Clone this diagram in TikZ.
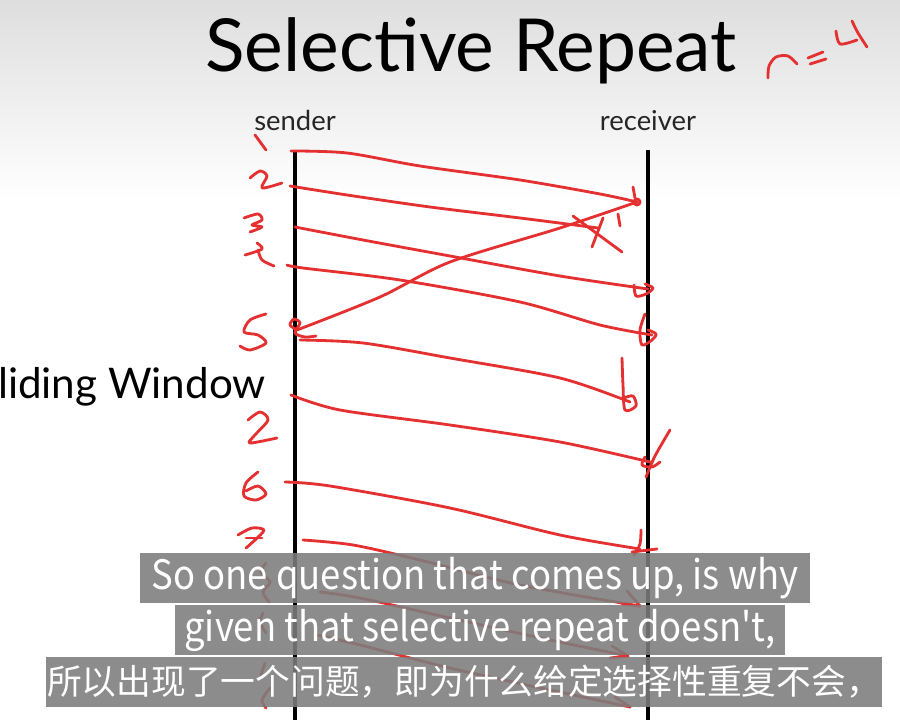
\documentclass[tikz,border=0pt]{standalone}
\usepackage{fontspec}
\newfontfamily\titlefont{Lato}
\newfontfamily\subfont{Noto Sans CJK SC}
\newfontfamily\subfontn[FakeStretch=0.9]{Noto Sans CJK SC}
\definecolor{inkred}{RGB}{228,48,48}
\definecolor{capgray}{RGB}{125,125,125}
\definecolor{topgray}{RGB}{222,222,222}
\begin{document}
\begin{tikzpicture}[x=0.025cm,y=-0.025cm,
  ink/.style={draw=inkred,line width=2pt,line cap=round,line join=round},
  lifeline/.style={draw=black,line width=2.4pt},
  caption/.style={fill=capgray,fill opacity=0.88,text opacity=1,text=white,
    inner sep=0pt,anchor=center},
  lbl/.style={font=\titlefont\fontsize{19.5}{22}\selectfont,text=black!85,inner sep=0pt}]
\useasboundingbox (0,0) rectangle (900,720);
\fill[white] (0,0) rectangle (900,720);
\shade[top color=topgray,bottom color=white] (0,0) rectangle (900,200);

% title and labels
\node[font=\titlefont\fontsize{52}{60}\selectfont,inner sep=0pt,anchor=base] (title) at (471,72) {Selective Repeat};
\node[lbl,anchor=base] (sender) at (295,131) {sender};
\node[lbl,anchor=base] (receiver) at (648,131) {receiver};
\node[font=\titlefont\fontsize{30}{36}\selectfont,inner sep=0pt,anchor=base east] (slide) at (266,399) {liding Window};

% lifelines
\coordinate (s1) at (295,150); \coordinate (s2) at (295,720);
\coordinate (r1) at (648,150); \coordinate (r2) at (648,720);
\draw[lifeline] (s1) -- (s2);
\draw[lifeline] (r1) -- (r2);

% n=4
\draw[ink] plot[smooth] coordinates {(768,78) (769,66) (776,57) (788,56) (797,64)};
\draw[ink] (808,58) -- (823,52);
\draw[ink] (810,64) -- (826,59);
\draw[ink] plot[smooth] coordinates {(836,31) (840,44) (857,40)};
\draw[ink] plot[smooth] coordinates {(852,21) (858,33) (867,47)};

% sequence labels on the left
\draw[ink] (255,135) -- (266,150);
\draw[ink] plot[smooth] coordinates {(250,178) (260,171) (267,176) (262,188) (282,183)};
\draw[ink] plot[smooth] coordinates {(244,218) (258,214) (262,220) (252,225) (262,227) (250,232)};
\draw[ink] plot[smooth] coordinates {(245,255) (262,249) (257,243)};
\draw[ink] plot[smooth] coordinates {(258,250) (262,260) (274,266)};
\draw[ink] plot[smooth] coordinates {(266,314) (250,320) (244,332) (258,335) (266,343) (250,350) (240,346)};
\draw[ink] plot[smooth] coordinates {(248,420) (260,412) (268,420) (254,436) (250,443) (277,438)};
\draw[ink] plot[smooth] coordinates {(258,472) (246,483) (244,496) (256,500) (266,494) (258,486) (246,491)};
\draw[ink] plot[smooth] coordinates {(238,535) (252,528) (264,530) (255,540) (246,548)};
\draw[ink] (246,538) -- (262,538);
\draw[ink] plot[smooth] coordinates {(266,563) (261,572) (270,582) (263,592) (269,602)};
\draw[ink] plot[smooth] coordinates {(263,613) (260,622) (266,633)};
\draw[ink] plot[smooth] coordinates {(265,663) (261,675)};
\draw[ink] plot[smooth] coordinates {(270,688) (262,700) (266,708)};

% frames
\coordinate (f1a) at (291,151); \coordinate (f1b) at (637,202);
\draw[ink] plot[smooth] coordinates {(f1a) (347,153) (420,166) (520,180) (600,194) (f1b)};
\draw[ink] (f1b) circle (3);
\draw[ink] (633,187) -- (635,198);

\coordinate (f2a) at (290,186); \coordinate (f2b) at (598,228);
\draw[ink] plot[smooth] coordinates {(f2a) (347,195) (430,207) (520,218) (f2b)};
\draw[ink] (573,216) -- (622,252);
\draw[ink] (592,247) -- (603,218);
\draw[ink] (618,214) -- (620,226);

\coordinate (ack) at (297,330);
\draw[ink] plot[smooth] coordinates {(f1b) (560,228) (450,262) (380,297) (ack)};
\draw[ink] plot[smooth] coordinates {(ack) (290,325) (294,319) (300,323) (295,333) (305,337) (316,336)};

\coordinate (f3a) at (295,227); \coordinate (f3b) at (648,289);
\draw[ink] plot[smooth] coordinates {(f3a) (363,240) (450,256) (560,276) (f3b)};
\draw[ink] plot[smooth] coordinates {(634,285) (636,296) (646,294) (653,288) (645,284)};

\coordinate (f4a) at (287,265); \coordinate (f4b) at (652,335);
\draw[ink] plot[smooth] coordinates {(f4a) (303,268) (400,280) (520,302) (600,325) (f4b)};
\draw[ink] plot[smooth] coordinates {(645,314) (640,330) (642,345) (652,340) (656,334) (648,330)};

\coordinate (f5a) at (300,340); \coordinate (f5b) at (630,402);
\draw[ink] plot[smooth] coordinates {(f5a) (363,343) (450,358) (560,378) (f5b)};
\draw[ink] plot[smooth] coordinates {(622,358) (623,385) (625,410) (636,406) (633,396) (624,398)};

\coordinate (f6a) at (291,395); \coordinate (f6b) at (650,462);
\draw[ink] plot[smooth] coordinates {(f6a) (340,410) (450,425) (560,442) (f6b)};
\draw[ink] plot[smooth] coordinates {(646,477) (655,456) (670,430)};
\draw[ink] plot[smooth] coordinates {(645,457) (642,465) (652,467) (660,462)};

\coordinate (f7a) at (285,482); \coordinate (f7b) at (640,549);
\draw[ink] plot[smooth] coordinates {(f7a) (330,486) (450,508) (560,535) (f7b)};
\draw[ink] plot[smooth] coordinates {(634,555) (640,544) (641,530)};
\draw[ink] (632,552) -- (657,549);

\coordinate (f8a) at (303,540); \coordinate (f8b) at (640,606);
\draw[ink] plot[smooth] coordinates {(f8a) (353,545) (420,560) (520,585) (f8b)};
\draw[ink] (627,591) -- (640,606) -- (622,604);
\coordinate (f9a) at (320,592); \coordinate (f9b) at (628,656);
\draw[ink] plot[smooth] coordinates {(f9a) (360,598) (450,618) (550,640) (f9b)};
\draw[ink] (612,646) -- (628,656) -- (610,658);
\coordinate (f10a) at (317,635); \coordinate (f10b) at (630,707);
\draw[ink] plot[smooth] coordinates {(f10a) (360,645) (450,668) (550,690) (f10b)};
\draw[ink] (615,697) -- (630,707);

% subtitles
\node[caption,minimum width=16.75cm,minimum height=1.25cm,font=\subfontn\fontsize{28.8}{32}\selectfont] (sub1) at (475,578) {So one question that comes up, is why};
\node[caption,minimum width=15.25cm,minimum height=1.25cm,font=\subfontn\fontsize{28.8}{32}\selectfont] (sub2) at (480,630) {given that selective repeat doesn't,};
\node[caption,minimum width=20.9cm,minimum height=1.25cm,font=\subfont\fontsize{24.7}{28}\selectfont] (sub3) at (464,682) {所以出现了一个问题，即为什么给定选择性重复不会，};
\end{tikzpicture}
\end{document}
